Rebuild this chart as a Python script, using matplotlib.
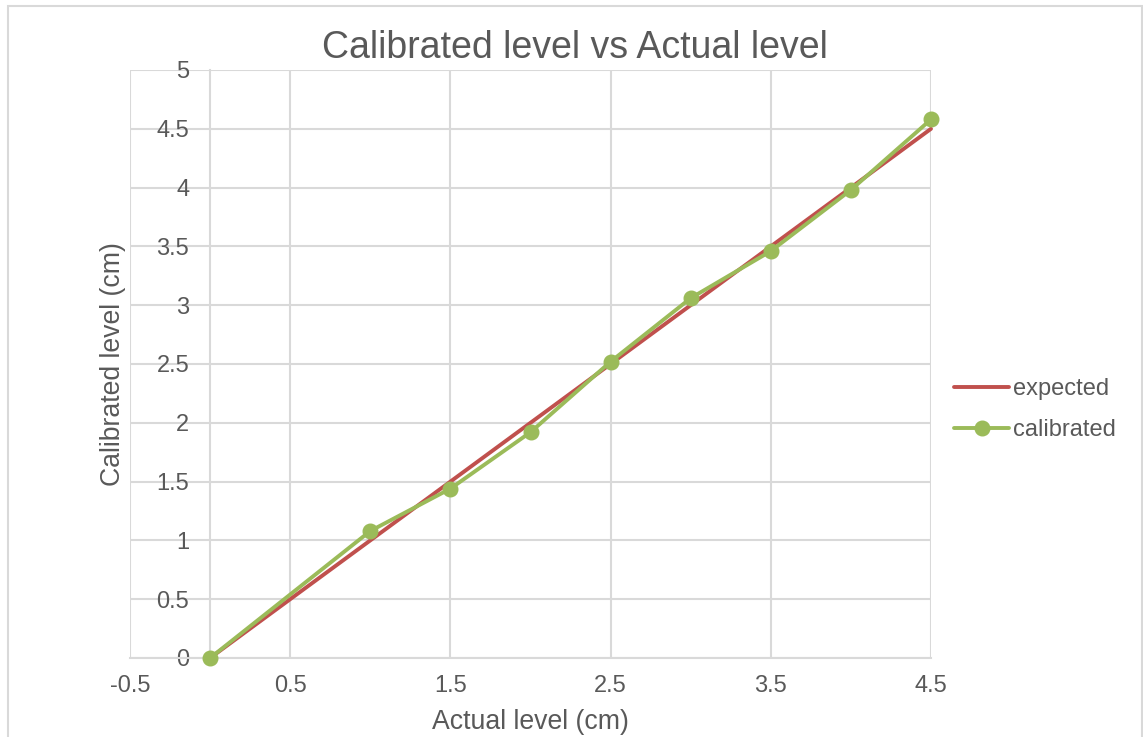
import matplotlib
matplotlib.use("Agg")
import matplotlib.pyplot as plt
from matplotlib.ticker import FuncFormatter
from matplotlib.patches import Rectangle

# Data
actual_level = [0, 1, 1.5, 2, 2.5, 3, 3.5, 4, 4.5]
expected_level = [0, 1, 1.5, 2, 2.5, 3, 3.5, 4, 4.5]
calibrated_level = [0, 1.08, 1.44, 1.92, 2.52, 3.06, 3.46, 3.98, 4.58]
x_ticks = [-0.5, 0.5, 1.5, 2.5, 3.5, 4.5]
y_ticks = [0, 0.5, 1, 1.5, 2, 2.5, 3, 3.5, 4, 4.5, 5]

plt.rcParams['font.family'] = ['Liberation Sans', 'DejaVu Sans']
plt.rcParams['axes.unicode_minus'] = False

TEXT = '#595959'
GRID = '#D9D9D9'
RED = '#C0504D'
GREEN = '#9BBB59'

W, H = 1143, 737
fig = plt.figure(figsize=(W / 100, H / 100), dpi=100)

# Chart-area border
fig.patches.append(Rectangle((8 / W, -0.05), (1142 - 8) / W, 1.05 - 6 / H,
                             transform=fig.transFigure, fill=False,
                             edgecolor=GRID, linewidth=1.5))

ax = fig.add_axes([130 / W, 1 - 658 / H, (931 - 130) / W, (658 - 70) / H])

ax.plot(expected_level, expected_level, color=RED, linewidth=2.8,
        label='expected', zorder=3, solid_capstyle='round', clip_on=False)
ax.plot(actual_level, calibrated_level, color=GREEN, linewidth=2.8,
        marker='o', markersize=10.5, label='calibrated', zorder=4,
        solid_capstyle='round', clip_on=False)

ax.set_xlim(-0.5, 4.5)
ax.set_ylim(0, 5)
ax.set_xticks(x_ticks)
ax.set_yticks(y_ticks)
ax.xaxis.set_major_formatter(FuncFormatter(lambda v, p: f'{v:g}'))
ax.yaxis.set_major_formatter(FuncFormatter(lambda v, p: f'{v:g}'))

ax.grid(True, color=GRID, linewidth=1.5, zorder=0)
ax.set_axisbelow(True)
for s in ('top', 'right'):
    ax.spines[s].set_visible(False)
ax.spines['left'].set_position(('data', 0))
ax.spines['left'].set_color(GRID)
ax.spines['bottom'].set_color(GRID)
ax.spines['left'].set_linewidth(1.5)
ax.spines['bottom'].set_linewidth(1.5)

ax.tick_params(axis='both', length=0, labelsize=17, labelcolor=TEXT)
ax.tick_params(axis='y', pad=15)
ax.tick_params(axis='x', pad=12)

fig.text(575 / W, 1 - 48 / H, 'Calibrated level vs Actual level',
         ha='center', va='center', fontsize=27, color=TEXT)
fig.text(530 / W, 1 - 722 / H, 'Actual level (cm)',
         ha='center', va='center', fontsize=19.2, color=TEXT)
fig.text(113 / W, 1 - 364 / H, 'Calibrated level (cm)',
         ha='center', va='center', rotation=90, fontsize=19.2, color=TEXT)

leg = ax.legend(loc='center left', bbox_to_anchor=(945 / W, 1 - 409.5 / H),
                bbox_transform=fig.transFigure, frameon=False,
                fontsize=17, handlelength=2.3, handletextpad=0.2,
                labelspacing=0.82, borderaxespad=0)
for t in leg.get_texts():
    t.set_color(TEXT)

fig.savefig('out.png', dpi=100)
